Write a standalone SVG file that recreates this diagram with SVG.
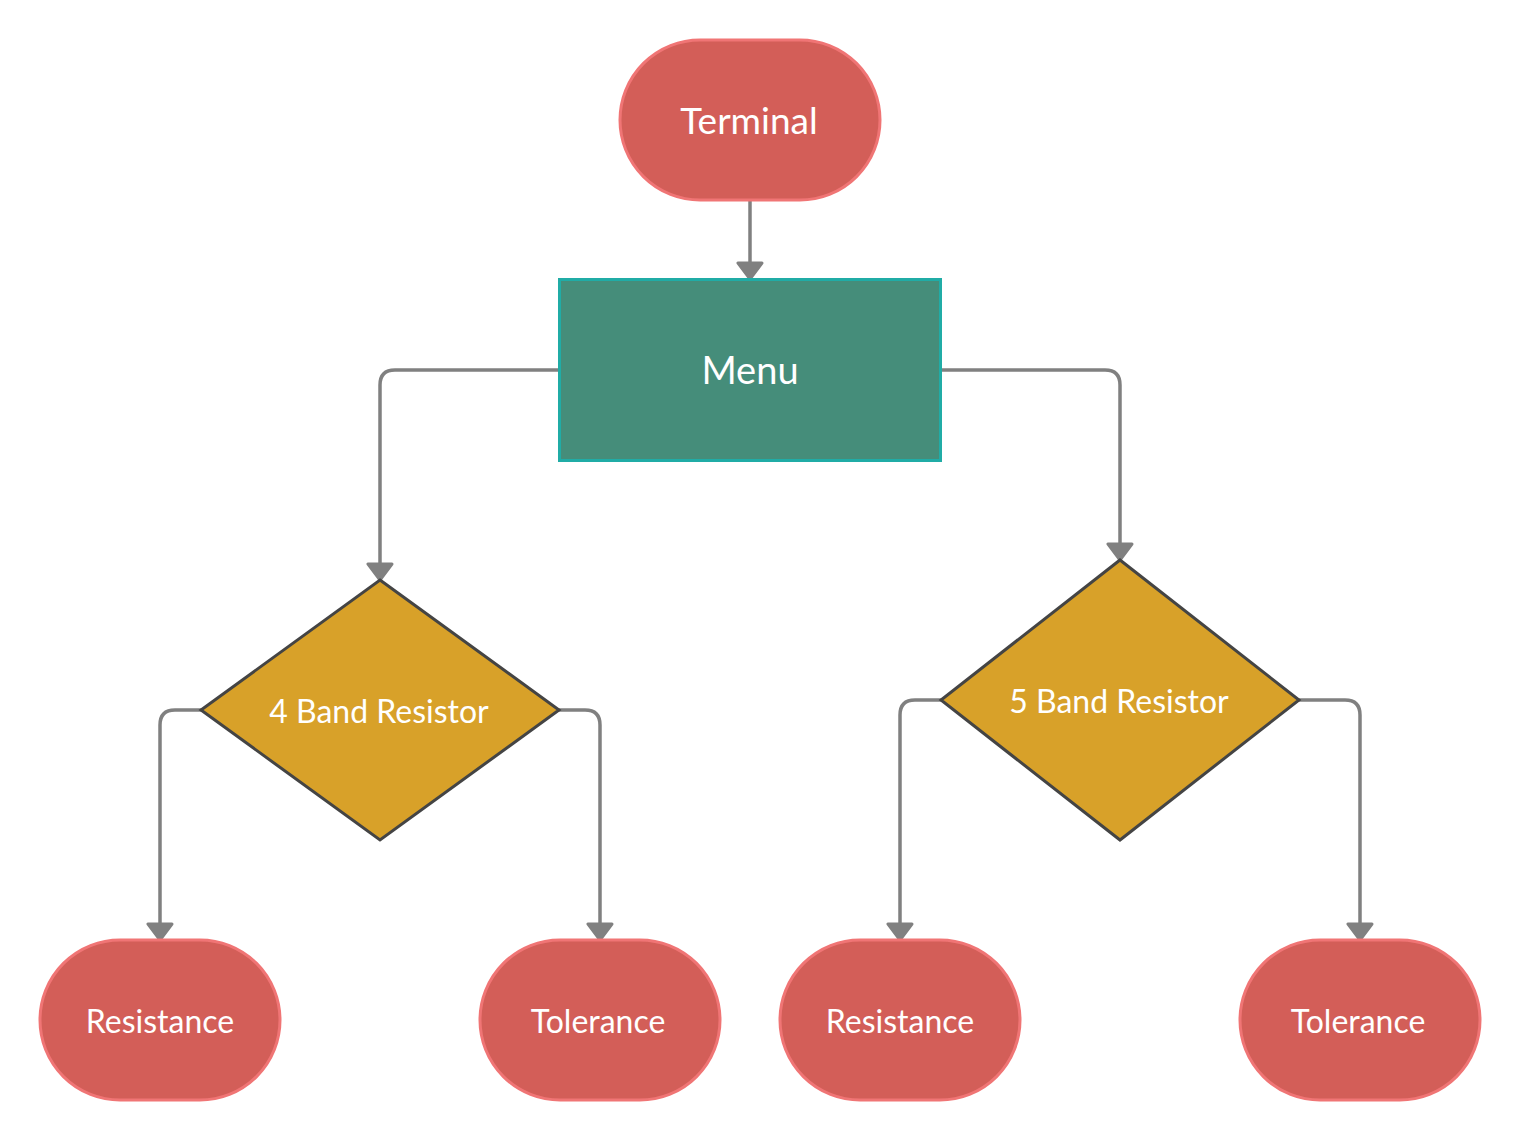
<svg xmlns="http://www.w3.org/2000/svg" width="1521" height="1140" viewBox="0 0 1521 1140">
<defs>
<style>
.term{fill:#d35e58;stroke:#f07575;stroke-width:3}
.proc{fill:#458d7a;stroke:#20aca6;stroke-width:3}
.dec{fill:#d8a129;stroke:#444444;stroke-width:3;stroke-linejoin:miter}
.lbl{fill:#ffffff;font-family:Lato,"Open Sans","Liberation Sans",sans-serif;text-anchor:middle}
.edge{fill:none;stroke:#808080;stroke-width:3.5;marker-end:url(#arr)}
</style>
<marker id="arr" viewBox="0 0 20 28" refX="18" refY="14" markerWidth="20" markerHeight="28" markerUnits="userSpaceOnUse" orient="auto">
<path d="M2,2 L18,14 L2,26 Z" fill="#808080" stroke="#808080" stroke-width="3" stroke-linejoin="round"/>
</marker>
</defs>
<rect width="1521" height="1140" fill="#ffffff"/>
<g id="connectors">
<path class="edge" d="M750,200 L750,279"/>
<path class="edge" d="M559,370 L395,370 Q380,370 380,385 L380,580"/>
<path class="edge" d="M940,370 L1105,370 Q1120,370 1120,385 L1120,560"/>
<path class="edge" d="M201,710 L175,710 Q160,710 160,725 L160,940"/>
<path class="edge" d="M559,710 L585,710 Q600,710 600,725 L600,940"/>
<path class="edge" d="M941,700 L915,700 Q900,700 900,715 L900,940"/>
<path class="edge" d="M1299,700 L1345,700 Q1360,700 1360,715 L1360,940"/>
</g>
<g id="terminal">
<rect class="term" x="620" y="40" width="260" height="160" rx="80" ry="80"/>
<text class="lbl" x="749" y="134" font-size="37">Terminal</text>
</g>
<g id="menu">
<rect class="proc" x="559.5" y="279.5" width="381" height="181"/>
<text class="lbl" x="750" y="384" font-size="38">Menu</text>
</g>
<g id="band4">
<polygon class="dec" points="380,580 559,710 380,840 201,710"/>
<text class="lbl" x="379" y="723" font-size="32">4 Band Resistor</text>
</g>
<g id="band5">
<polygon class="dec" points="1120,560 1299,700 1120,840 941,700"/>
<text class="lbl" x="1119" y="713" font-size="32">5 Band Resistor</text>
</g>
<g id="resistance4">
<rect class="term" x="40" y="940" width="240" height="160" rx="80" ry="80"/>
<text class="lbl" x="160" y="1033" font-size="32">Resistance</text>
</g>
<g id="tolerance4">
<rect class="term" x="480" y="940" width="240" height="160" rx="80" ry="80"/>
<text class="lbl" x="598" y="1033" font-size="32">Tolerance</text>
</g>
<g id="resistance5">
<rect class="term" x="780" y="940" width="240" height="160" rx="80" ry="80"/>
<text class="lbl" x="900" y="1033" font-size="32">Resistance</text>
</g>
<g id="tolerance5">
<rect class="term" x="1240" y="940" width="240" height="160" rx="80" ry="80"/>
<text class="lbl" x="1358" y="1033" font-size="32">Tolerance</text>
</g>
</svg>
